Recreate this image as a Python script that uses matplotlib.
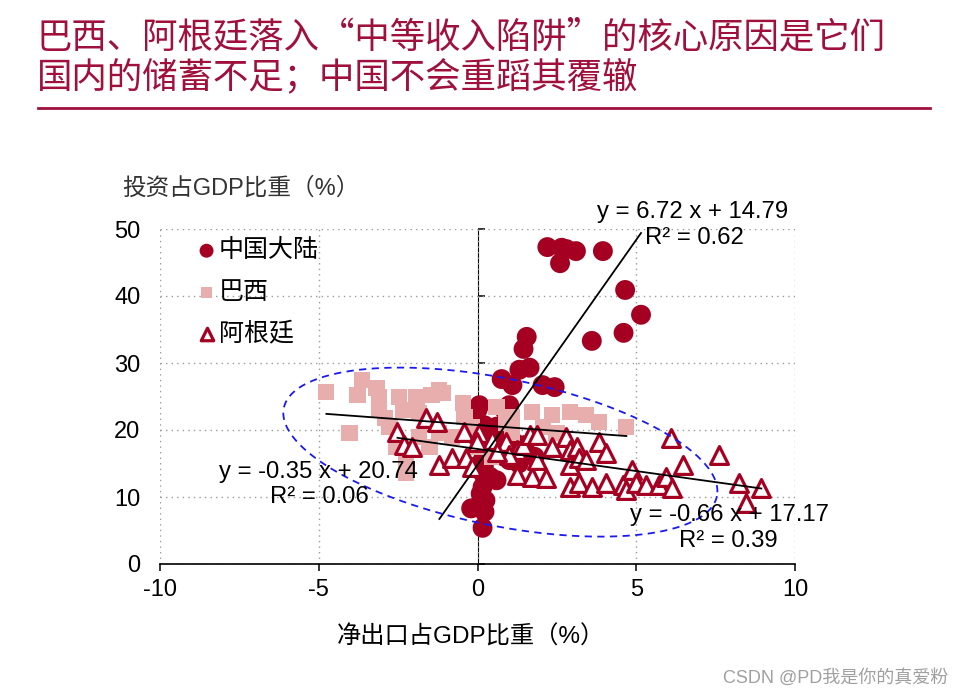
import numpy as np
import matplotlib
matplotlib.use("Agg")
import matplotlib.pyplot as plt
from matplotlib.lines import Line2D

plt.rcParams['font.family'] = ['Liberation Sans', 'Noto Sans CJK SC', 'DejaVu Sans']

# ---------------- data ----------------
title_lines = ["巴西、阿根廷落入“中等收入陷阱”的核心原因是它们",
               "国内的储蓄不足；中国不会重蹈其覆辙"]
y_label = "投资占GDP比重（%）"
x_label = "净出口占GDP比重（%）"
series_names = ["中国大陆", "巴西", "阿根廷"]

china_x = [2.2, 2.65, 2.8, 3.1, 2.6, 3.95, 4.65, 5.15, 4.6, 3.6, 1.55, 1.45,
           1.64, 1.32, 0.76, 1.1, 2.05, 2.43, 0.06, 1.0, 0.22, 0.31, 1.0, 0.16,
           0.16, 0.6, 0.16, -0.03, 0.22, 0.16, 0.0, 0.85, 0.8, 1.2, 1.5, 0.5,
           1.3, 0.3, 0.2, 0.1, 0.25, 0.4, -0.2, 0.6, 1.8]
china_y = [47.3, 47.2, 47.0, 46.7, 44.9, 46.7, 40.9, 37.2, 34.5, 33.3, 33.9, 32.1,
           29.3, 29.0, 27.6, 26.7, 26.7, 26.4, 23.7, 23.7, 20.7, 17.5, 15.5, 15.5,
           13.6, 12.5, 11.5, 8.5, 7.8, 5.4, 23.0, 23.0, 19.5, 18.0, 17.0, 16.5,
           15.0, 18.5, 14.5, 10.5, 9.5, 13.0, 8.3, 20.5, 16.0]

brazil_x = [-4.76, -3.65, -3.18, -3.78, -3.09, -4.03, -2.46, -1.92, -1.45, -1.1,
            -3.09, -2.36, -1.83, -0.47, -0.41, 0.6, 1.1, 1.73, 2.36, 2.9,
            3.43, 3.84, 4.69, -0.79, 0.06, 0.47, -2.24, -2.24, -1.51, -2.77,
            -2.55, -1.83, -1.2, 1.1, 2.05, 2.49, -0.16, 0.91, -1.2, -2.9]
brazil_y = [25.7, 27.5, 26.3, 25.2, 24.9, 19.5, 24.9, 24.9, 25.2, 25.5,
            23.0, 23.0, 22.5, 24.0, 21.9, 23.4, 21.9, 22.7, 22.2, 22.7,
            22.2, 21.2, 20.4, 19.0, 17.5, 16.0, 16.0, 13.6, 17.5, 20.4,
            17.5, 19.0, 19.5, 19.5, 20.4, 19.5, 20.4, 21.0, 26.0, 21.8]

argentina_x = [-2.52, -2.3, -2.05, -1.61, -1.26, -1.2, -0.79, -0.35, -0.41, 0.06,
               -0.16, 0.47, 0.91, 1.23, 1.42, 1.64, 1.86, 1.23, 1.73, 2.17,
               1.86, 2.8, 2.9, 2.9, 3.12, 3.21, 3.43, 3.84, 4.06, 2.9,
               3.21, 3.62, 4.06, 4.57, 4.69, 4.88, 5.0, 5.32, 5.73, 5.95,
               6.14, 6.11, 6.46, 7.62, 8.25, 8.94, 8.47, 2.36, 1.0, -0.03, 0.6]
argentina_y = [19.7, 17.8, 17.5, 21.8, 21.2, 14.8, 15.8, 15.8, 19.7, 19.6,
               14.5, 18.5, 18.2, 17.0, 17.8, 19.3, 19.3, 13.3, 13.0, 12.8,
               15.5, 19.0, 17.0, 14.8, 17.5, 15.8, 15.5, 18.2, 16.6, 11.5,
               12.1, 11.5, 12.1, 11.8, 11.0, 14.0, 12.1, 11.8, 11.8, 13.0,
               11.3, 18.8, 14.8, 16.3, 12.1, 11.3, 9.1, 17.5, 16.3, 18.2, 16.7]

fit_slope = [6.72, -0.35, -0.66]
fit_intercept = [14.79, 20.74, 17.17]
fit_r2 = [0.62, 0.06, 0.39]
fit_backward = [1.0, 0.0, 0.0]

x_ticks = [-10, -5, 0, 5, 10]
y_ticks = [0, 10, 20, 30, 40, 50]
watermark = "CSDN @PD我是你的真爱粉"

# ---------------- style ----------------
title_color = "#A0103C"
china_color = "#A50021"
brazil_color = "#E8AEAE"
arg_color = "#A50021"
txt_font = ['Liberation Sans', 'Noto Sans CJK SC']

fig = plt.figure(figsize=(9.63, 6.97), dpi=100)
fig.patch.set_facecolor("white")

# title
fig.text(0.038, 0.947, title_lines[0], fontsize=25.5, color=title_color,
         family=['Noto Sans CJK SC'], va='center', ha='left')
fig.text(0.038, 0.889, title_lines[1], fontsize=25.5, color=title_color,
         family=['Noto Sans CJK SC'], va='center', ha='left')
fig.add_artist(Line2D([0.039, 0.966], [0.845, 0.845], transform=fig.transFigure,
                      color=title_color, lw=2))

ax = fig.add_axes([160 / 963, 1 - 564 / 697, 635 / 963, 335 / 697])
ax.set_xlim(-10, 10)
ax.set_ylim(0, 50)

for s in ['top', 'right', 'left']:
    ax.spines[s].set_visible(False)
ax.spines['bottom'].set_color('black')
ax.spines['bottom'].set_linewidth(1.2)

ax.set_xticks(x_ticks)
ax.set_yticks(y_ticks)
ax.set_xticklabels([str(v) for v in x_ticks])
ax.set_yticklabels([str(v) for v in y_ticks])
ax.tick_params(axis='x', direction='out', length=5, width=1.1, pad=6, labelsize=17)
ax.tick_params(axis='y', length=0, pad=14, labelsize=17)

ax.grid(True, linestyle=(0, (1, 3)), color='#9A9A9A', lw=1.0)
ax.set_axisbelow(True)

# vertical axis at x = 0
sec = ax.secondary_yaxis(0.5)
sec.set_yticks(y_ticks)
sec.set_yticklabels([])
sec.tick_params(axis='y', direction='out', length=5, width=1.1)
sec.spines['left'].set_linewidth(1.2)

# scatter
ax.scatter(china_x, china_y, s=205, marker='o', color=china_color,
           edgecolors='none', zorder=3, label=series_names[0])
ax.scatter(brazil_x, brazil_y, s=135, marker='s', color=brazil_color,
           edgecolors='none', zorder=3, label=series_names[1])
ax.scatter(argentina_x, argentina_y, s=165, marker='^', facecolors='white',
           edgecolors=arg_color, linewidths=2.3, zorder=4, label=series_names[2])

# trend lines
all_x = [china_x, brazil_x, argentina_x]
for xs, m, b, back in zip(all_x, fit_slope, fit_intercept, fit_backward):
    x0 = min(xs) - back
    x1 = max(xs)
    xx = np.array([x0, x1])
    ax.plot(xx, m * xx + b, color='black', lw=1.3, zorder=5)

# ellipse (drawn in screen space, converted to data units)
fig.canvas.draw()
bb = ax.get_window_extent()
sx = bb.width / 20.0
sy = bb.height / 50.0
ell_center = (0.72, 16.7)
ell_a, ell_b, ell_theta = 221.0, 73.6, np.deg2rad(11.5)
t = np.linspace(0, 2 * np.pi, 400)
ex = ell_center[0] + (ell_a * np.cos(t) * np.cos(ell_theta) - ell_b * np.sin(t) * np.sin(ell_theta)) / sx
ey = ell_center[1] - (ell_a * np.cos(t) * np.sin(ell_theta) + ell_b * np.sin(t) * np.cos(ell_theta)) / sy
ax.plot(ex, ey, color='#1A1AF0', lw=1.3, linestyle=(0, (4, 3)), zorder=6)

# equations
eq_pos = [((3.75, 52.5), (5.26, 48.7)),
          ((-8.13, 13.7), (-6.55, 10.0)),
          ((4.79, 7.3), (6.36, 3.4))]
for (p1, p2), m, b, r2 in zip(eq_pos, fit_slope, fit_intercept, fit_r2):
    ax.text(p1[0], p1[1], f"y = {m:.2f} x + {b:.2f}", fontsize=17.2, ha='left',
            va='center', zorder=7, clip_on=False, family=txt_font)
    ax.text(p2[0], p2[1], f"R² = {r2:.2f}", fontsize=17.2, ha='left',
            va='center', zorder=7, clip_on=False, family=txt_font)

# legend
leg = ax.legend(loc='upper left', bbox_to_anchor=(0.03, 1.02), frameon=False,
                fontsize=18, labelspacing=0.62, handletextpad=0.0,
                handlelength=1.0, markerscale=0.7, borderaxespad=0.2)
for txt in leg.get_texts():
    txt.set_family(['Noto Sans CJK SC'])

# axis labels
fig.text(122 / 963, 1 - 188 / 697, y_label, fontsize=17, color='#333333',
         family=txt_font, ha='left', va='center')
fig.text(471 / 963, 1 - 637 / 697, x_label, fontsize=17.5, color='black',
         family=txt_font, ha='center', va='center')

fig.text(948 / 963, 1 - 678 / 697, watermark, fontsize=13, color='#A0A0A0',
         family=txt_font, ha='right', va='center')

fig.savefig("out.png", dpi=100, facecolor="white")
